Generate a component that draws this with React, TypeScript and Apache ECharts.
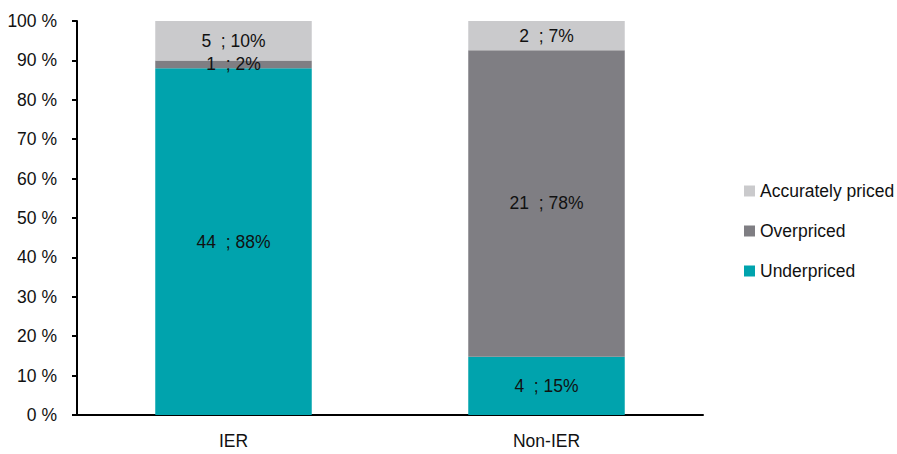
import React, { useEffect, useRef } from "react";
import * as echarts from "echarts";

// Group names on the x axis
const categories = ["IER", "Non-IER"];

// Number of cases in each pricing outcome, per group
const underpriced = [44, 4];
const overpriced = [1, 21];
const accuratelyPriced = [5, 2];

// Y-axis ticks (percent)
const yTicks = [0, 10, 20, 30, 40, 50, 60, 70, 80, 90, 100];

const seriesNames = ["Underpriced", "Overpriced", "Accurately priced"];
const seriesColors = ["#00A3AD", "#7F7E83", "#CACACC"];

const FONT = "'Liberation Sans', Arial, sans-serif";
const FS = 17.5;

export default function App() {
  const ref = useRef<HTMLDivElement>(null);

  useEffect(() => {
    if (!ref.current) return;
    const chart = echarts.init(ref.current, undefined, { renderer: "svg" });

    const totals = categories.map(
      (_, i) => underpriced[i] + overpriced[i] + accuratelyPriced[i]
    );
    const counts = [underpriced, overpriced, accuratelyPriced];

    const series = counts.map((arr, s) => ({
      name: seriesNames[s],
      type: "bar" as const,
      stack: "total",
      barWidth: "50%",
      itemStyle: { color: seriesColors[s] },
      data: arr.map((c, i) => ({ value: (c / totals[i]) * 100, count: c })),
      label: {
        show: true,
        position: "inside" as const,
        color: "#111",
        fontFamily: FONT,
        fontSize: FS,
        formatter: (p: any) =>
          `${p.data.count}\u00a0 ; ${Math.round(p.data.value)}%`,
      },
    }));

    chart.setOption({
      animation: false,
      backgroundColor: "#fff",
      grid: { left: 77, right: 194, top: 21, bottom: 39 },
      legend: {
        orient: "vertical",
        left: 744,
        top: 181,
        padding: 0,
        itemWidth: 11,
        itemHeight: 11,
        itemGap: 20,
        icon: "rect",
        data: ["Accurately priced", "Overpriced", "Underpriced"],
        textStyle: {
          fontFamily: FONT,
          fontSize: FS,
          lineHeight: 20,
          color: "#111",
        },
      },
      xAxis: {
        type: "category",
        data: categories,
        axisTick: { show: false },
        axisLine: { lineStyle: { color: "#000", width: 2 } },
        axisLabel: { fontFamily: FONT, fontSize: FS, color: "#111", margin: 17 },
      },
      yAxis: {
        type: "value",
        min: yTicks[0],
        max: yTicks[yTicks.length - 1],
        interval: yTicks[1] - yTicks[0],
        splitLine: { show: false },
        axisLine: { show: true, lineStyle: { color: "#000", width: 2 } },
        axisTick: { show: true, length: 5, lineStyle: { color: "#000", width: 2 } },
        axisLabel: {
          fontFamily: FONT,
          fontSize: FS,
          color: "#111",
          margin: 20,
          formatter: "{value} %",
        },
      },
      series,
    });

    return () => chart.dispose();
  }, []);

  return (
    <div
      ref={ref}
      style={{ position: "fixed", left: 0, top: 0, width: 897, height: 454 }}
    />
  );
}
